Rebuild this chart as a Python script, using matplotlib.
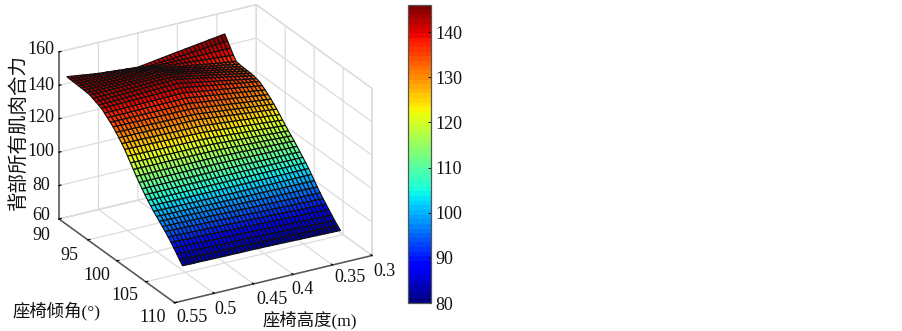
import numpy as np
import matplotlib
matplotlib.use('Agg')
import matplotlib.pyplot as plt
from matplotlib import cm
from matplotlib.colors import Normalize
from mpl_toolkits.mplot3d import proj3d

FONT = ['Liberation Serif', 'Noto Sans CJK SC', 'DejaVu Sans']
plt.rcParams['font.family'] = FONT

height_ticks = [0.3, 0.35, 0.4, 0.45, 0.5, 0.55]
height_labels = ['0.3', '0.35', '0.4', '0.45', '0.5', '0.55']
angle_ticks = [90, 95, 100, 105, 110]
force_ticks = [60, 80, 100, 120, 140, 160]
cbar_ticks = [80, 90, 100, 110, 120, 130, 140]
seat_height = np.linspace(0.34, 0.54, 41)
seat_angle = np.linspace(90, 110, 41)

# back-muscle resultant force: one row per seat angle, one column per seat height
force = [
[147.0,146.7,146.3,146.0,145.7,145.3,145.0,144.7,144.3,144.0,143.7,143.3,143.0,142.7,142.3,142.0,141.6,141.3,140.9,140.6,140.2,139.9,139.5,139.7,139.9,140.1,140.3,140.5,140.7,140.9,141.1,141.3,141.5,141.8,142.1,142.4,142.8,143.1,143.4,143.7,144.0],
[144.0,143.8,143.6,143.4,143.2,143.1,142.9,142.7,142.5,142.3,142.1,141.9,141.7,141.5,141.3,141.2,141.0,140.8,140.6,140.4,140.2,140.4,140.6,140.8,140.9,141.1,141.3,141.5,141.7,141.9,142.1,142.2,142.4,142.6,142.8,143.0,143.2,143.3,143.5,143.7,143.9],
[141.0]*21+[141.1,141.3,141.4,141.6,141.7,141.8,142.0,142.1,142.3,142.4,142.5,142.7,142.8,143.0,143.1,143.2,143.4,143.5,143.7,143.8],
[138.0,138.2,138.4,138.6,138.8,139.0,139.1,139.3,139.5,139.7,139.9,140.1,140.3,140.5,140.7,140.9,141.0,141.2,141.4,141.6,141.8,141.9,142.0,142.1,142.2,142.3,142.4,142.5,142.6,142.7,142.8,142.8,142.9,143.0,143.1,143.2,143.3,143.4,143.5,143.6,143.7],
[135.5,135.9,136.2,136.6,136.9,137.3,137.6,138.0,138.3,138.7,139.0,139.4,139.7,140.1,140.4,140.8,141.1,141.5,141.8,142.2,142.5,142.6,142.6,142.7,142.7,142.8,142.8,142.9,142.9,143.0,143.1,143.1,143.2,143.2,143.3,143.3,143.4,143.4,143.5,143.5,143.6],
[135.2,135.6,136.0,136.4,136.8,137.2,137.5,137.9,138.3,138.7,139.1,139.5,139.9,140.3,140.7,141.1,141.4,141.8,142.2,142.6,143.0,143.0,143.1,143.1,143.1,143.1,143.1,143.2,143.2,143.2,143.2,143.3,143.3,143.3,143.3,143.4,143.4,143.4,143.4,143.5,143.5],
[135.0,135.4,135.9,136.3,136.7,137.1,137.6,138.0,138.4,138.8,139.3,139.7,140.1,140.5,141.0,141.4,141.8,142.2,142.7,143.1,143.5]+[143.5]*10+[143.4]*10,
[134.9,135.3,135.8,136.2,136.7,137.1,137.6,138.0,138.5,138.9,139.4,139.8,140.2,140.7,141.1,141.6,142.0,142.5,142.9,143.4,143.8,143.8,143.7,143.7,143.7,143.7,143.7,143.6,143.6,143.6,143.5,143.5,143.5,143.4,143.4,143.4,143.3,143.3,143.3,143.2,143.2],
[134.8,135.3,135.7,136.2,136.6,137.1,137.6,138.0,138.5,138.9,139.4,139.9,140.3,140.8,141.2,141.7,142.2,142.6,143.1,143.5,144.0,144.0,143.9,143.9,143.8,143.8,143.7,143.7,143.6,143.6,143.5,143.5,143.4,143.4,143.3,143.3,143.2,143.2,143.1,143.1,143.0],
[134.7,135.2,135.6,136.1,136.5,137.0,137.4,137.9,138.3,138.8,139.3,139.7,140.2,140.6,141.1,141.5,142.0,142.4,142.9,143.3,143.8,143.7,143.6,143.6,143.5,143.4,143.3,143.2,143.2,143.1,143.0,142.9,142.8,142.8,142.7,142.6,142.5,142.4,142.4,142.3,142.2],
[134.5,135.0,135.4,135.9,136.3,136.8,137.2,137.7,138.1,138.6,139.0,139.5,139.9,140.4,140.8,141.3,141.7,142.2,142.6,143.1,143.5,143.4,143.3,143.2,143.1,143.0,142.9,142.8,142.7,142.6,142.5,142.4,142.3,142.2,142.1,142.0,141.9,141.8,141.7,141.6,141.5],
[134.0,134.4,134.8,135.3,135.7,136.1,136.5,136.9,137.4,137.8,138.2,138.6,139.0,139.5,139.9,140.3,140.7,141.1,141.6,142.0,142.4,142.3,142.2,142.2,142.1,142.0,141.9,141.8,141.8,141.7,141.6,141.5,141.4,141.4,141.3,141.2,141.1,141.0,141.0,140.9,140.8],
[133.5,133.9,134.3,134.6,135.0,135.4,135.8,136.1,136.5,136.9,137.3,137.6,138.0,138.4,138.8,139.1,139.5,139.9,140.3,140.6,141.0,141.0,140.9,140.9,140.8,140.8,140.7,140.7,140.6,140.6,140.5,140.5,140.4,140.4,140.3,140.3,140.2,140.2,140.1,140.1,140.0],
[132.3,132.7,133.0,133.4,133.7,134.1,134.4,134.8,135.1,135.5,135.8,136.2,136.5,136.9,137.2,137.6,137.9,138.3,138.6,139.0,139.3,139.3,139.2,139.2,139.1,139.1,139.1,139.0,139.0,138.9,138.9,138.9,138.8,138.8,138.7,138.7,138.7,138.6,138.6,138.5,138.5],
[131.0,131.3,131.7,132.0,132.3,132.6,133.0,133.3,133.6,133.9,134.3,134.6,134.9,135.2,135.6,135.9,136.2,136.5,136.9,137.2,137.5,137.5,137.4,137.4,137.4,137.4,137.4,137.3,137.3,137.3,137.3,137.2,137.2,137.2,137.2,137.1,137.1,137.1,137.1,137.0,137.0],
[129.5,129.8,130.1,130.4,130.7,131.0,131.3,131.6,131.9,132.2,132.5,132.8,133.1,133.4,133.7,134.0,134.3,134.6,134.9,135.2,135.5]+[135.5]*20,
[128.0,128.3,128.6,128.8,129.1,129.4,129.7,129.9,130.2,130.5,130.8,131.0,131.3,131.6,131.9,132.1,132.4,132.7,133.0,133.2,133.5,133.5,133.6,133.6,133.6,133.6,133.6,133.7,133.7,133.7,133.7,133.8,133.8,133.8,133.8,133.9,133.9,133.9,133.9,134.0,134.0],
[126.3,126.6,126.8,127.1,127.3,127.6,127.9,128.1,128.4,128.6,128.9,129.2,129.4,129.7,129.9,130.2,130.5,130.7,131.0,131.2,131.5,131.5,131.6,131.6,131.6,131.6,131.6,131.7,131.7,131.7,131.7,131.8,131.8,131.8,131.8,131.9,131.9,131.9,131.9,132.0,132.0],
[124.5,124.8,125.0,125.3,125.5,125.8,126.0,126.3,126.5,126.8,127.0,127.3,127.5,127.8,128.0,128.3,128.5,128.8,129.0,129.3,129.5,129.5,129.6,129.6,129.6,129.6,129.6,129.7,129.7,129.7,129.7,129.8,129.8,129.8,129.8,129.9,129.9,129.9,129.9,130.0,130.0],
[122.5,122.7,123.0,123.2,123.4,123.6,123.9,124.1,124.3,124.5,124.8,125.0,125.2,125.4,125.7,125.9,126.1,126.3,126.6,126.8,127.0,127.0,127.1,127.1,127.1,127.2,127.2,127.2,127.3,127.3,127.4,127.4,127.4,127.5,127.5,127.6,127.6,127.6,127.7,127.7,127.8],
[120.5,120.7,120.9,121.1,121.3,121.5,121.7,121.9,122.1,122.3,122.5,122.7,122.9,123.1,123.3,123.5,123.7,123.9,124.1,124.3,124.5,124.6,124.6,124.7,124.7,124.8,124.8,124.9,124.9,125.0,125.0,125.1,125.1,125.2,125.2,125.3,125.3,125.4,125.4,125.5,125.5],
[118.5,118.7,118.9,119.0,119.2,119.4,119.6,119.7,119.9,120.1,120.3,120.4,120.6,120.8,121.0,121.1,121.3,121.5,121.7,121.8,122.0,122.0,122.1,122.1,122.1,122.2,122.2,122.2,122.3,122.3,122.4,122.4,122.4,122.5,122.5,122.6,122.6,122.6,122.7,122.7,122.8],
[116.5,116.7,116.8,117.0,117.1,117.3,117.4,117.6,117.7,117.9,118.0,118.2,118.3,118.5,118.6,118.8,118.9,119.1,119.2,119.4,119.5,119.5,119.6,119.6,119.6,119.6,119.6,119.7,119.7,119.7,119.7,119.8,119.8,119.8,119.8,119.9,119.9,119.9,119.9,120.0,120.0],
[114.8,114.9,115.0,115.1,115.2,115.4,115.5,115.6,115.7,115.8,115.9,116.0,116.1,116.2,116.3,116.5,116.6,116.7,116.8,116.9,117.0,117.0,117.0,117.1,117.1,117.1,117.1,117.1,117.1,117.1,117.2,117.2,117.2,117.2,117.2,117.2,117.2,117.3,117.3,117.3,117.3],
[113.0,113.1,113.2,113.2,113.3,113.4,113.5,113.5,113.6,113.7,113.8,113.8,113.9,114.0,114.1,114.1,114.2,114.3,114.4,114.4,114.5]+[114.5]*20,
[111.0,111.1,111.1,111.2,111.2,111.3,111.3,111.4,111.4,111.5,111.5,111.6,111.6,111.7,111.7,111.8,111.8,111.9,111.9,112.0,112.0]+[112.0]*20,
[109.0,109.0,109.1,109.1,109.1,109.1,109.2,109.2,109.2,109.2,109.3,109.3,109.3,109.3,109.4,109.4,109.4,109.4,109.5,109.5,109.5]+[109.5]*20,
[107.0]*5+[107.1]*10+[107.2]*26,
[105.0]*41,
[102.8]*26+[102.9]*10+[103.0]*5,
[100.5]*21+[100.5,100.6,100.6,100.6,100.6,100.6,100.7,100.7,100.7,100.7,100.8,100.8,100.8,100.8,100.9,100.9,100.9,100.9,101.0,101.0],
[98.0,98.0,98.1,98.1,98.1,98.1,98.2,98.2,98.2,98.2,98.3,98.3,98.3,98.3,98.4,98.4,98.4,98.4,98.5,98.5,98.5,98.5,98.6,98.6,98.6,98.7,98.7,98.7,98.8,98.8,98.9,98.9,98.9,99.0,99.0,99.0,99.1,99.1,99.1,99.2,99.2],
[95.5,95.6,95.6,95.7,95.7,95.8,95.8,95.9,95.9,96.0,96.0,96.1,96.1,96.2,96.2,96.3,96.3,96.4,96.4,96.5,96.5,96.6,96.6,96.7,96.7,96.8,96.8,96.9,96.9,97.0,97.0,97.1,97.1,97.2,97.2,97.3,97.3,97.4,97.4,97.5,97.5],
[93.2,93.3,93.3,93.4,93.5,93.5,93.6,93.7,93.7,93.8,93.9,93.9,94.0,94.0,94.1,94.2,94.2,94.3,94.4,94.4,94.5,94.6,94.6,94.7,94.7,94.8,94.9,94.9,95.0,95.0,95.1,95.2,95.2,95.3,95.3,95.4,95.5,95.5,95.6,95.6,95.7],
[91.0,91.1,91.2,91.2,91.3,91.4,91.5,91.5,91.6,91.7,91.8,91.8,91.9,92.0,92.1,92.1,92.2,92.3,92.4,92.4,92.5,92.6,92.7,92.7,92.8,92.9,93.0,93.0,93.1,93.2,93.3,93.3,93.4,93.5,93.6,93.6,93.7,93.8,93.9,93.9,94.0],
[89.0,89.1,89.2,89.2,89.3,89.4,89.5,89.5,89.6,89.7,89.8,89.8,89.9,90.0,90.1,90.1,90.2,90.3,90.4,90.4,90.5,90.6,90.7,90.7,90.8,90.9,91.0,91.0,91.1,91.2,91.3,91.3,91.4,91.5,91.6,91.6,91.7,91.8,91.9,91.9,92.0],
[87.0,87.1,87.2,87.2,87.3,87.4,87.5,87.5,87.6,87.7,87.8,87.8,87.9,88.0,88.1,88.1,88.2,88.3,88.4,88.4,88.5,88.6,88.7,88.7,88.8,88.9,89.0,89.0,89.1,89.2,89.3,89.3,89.4,89.5,89.6,89.6,89.7,89.8,89.9,89.9,90.0],
[85.0,85.1,85.2,85.2,85.3,85.4,85.5,85.5,85.6,85.7,85.8,85.8,85.9,86.0,86.1,86.1,86.2,86.3,86.4,86.4,86.5,86.6,86.6,86.7,86.8,86.8,86.9,87.0,87.0,87.1,87.1,87.2,87.3,87.3,87.4,87.5,87.5,87.6,87.7,87.7,87.8],
[83.0,83.1,83.2,83.2,83.3,83.4,83.5,83.5,83.6,83.7,83.8,83.8,83.9,84.0,84.1,84.1,84.2,84.3,84.4,84.4,84.5,84.6,84.6,84.7,84.7,84.8,84.8,84.9,84.9,85.0,85.0,85.1,85.1,85.2,85.2,85.3,85.3,85.4,85.4,85.5,85.5],
[81.2,81.3,81.3,81.4,81.5,81.5,81.6,81.7,81.7,81.8,81.9,81.9,82.0,82.0,82.1,82.2,82.2,82.3,82.4,82.4,82.5,82.5,82.6,82.6,82.6,82.7,82.7,82.7,82.8,82.8,82.9,82.9,82.9,83.0,83.0,83.0,83.1,83.1,83.1,83.2,83.2],
[79.5,79.6,79.6,79.7,79.7,79.8,79.8,79.9,79.9,80.0,80.0,80.1,80.1,80.2,80.2,80.3,80.3,80.4,80.4,80.5,80.5,80.5,80.6,80.6,80.6,80.6,80.6,80.7,80.7,80.7,80.7,80.8,80.8,80.8,80.8,80.9,80.9,80.9,80.9,81.0,81.0],
]

W, H = 903, 331
fig = plt.figure(figsize=(W/100, H/100), dpi=100)
ax = fig.add_axes([0, 0, 1, 1], projection='3d', proj_type='ortho')
ax.view_init(elev=24.6, azim=60.1)
ax.set_box_aspect((227.5, 232, 183.7))
ax.patch.set_alpha(0)

X, Y = np.meshgrid(seat_height, seat_angle)
Z = np.array(force)
norm = Normalize(vmin=79.5, vmax=146)
ax.plot_surface(X, Y, Z, cmap='jet', norm=norm, edgecolor='#101010', linewidth=0.85,
                rcount=41, ccount=41, shade=False, antialiased=True)

ax.set_xlim(0.3, 0.55, view_margin=0)
ax.set_ylim(90, 110, view_margin=0)
ax.set_zlim(60, 160, view_margin=0)
ax.set_xticks(height_ticks); ax.set_yticks(angle_ticks); ax.set_zticks(force_ticks)
ax.set_xticklabels([]); ax.set_yticklabels([]); ax.set_zticklabels([])
for axis in (ax.xaxis, ax.yaxis, ax.zaxis):
    axis.set_pane_color((1, 1, 1, 1))
    axis.pane.set_edgecolor('#dcdcdc')
    axis._axinfo['grid'].update(color='#dcdcdc', linewidth=0.9)
    axis._axinfo['tick'].update(inward_factor=0.0, outward_factor=0.12, linewidth={True: 0.9, False: 0.5})
    axis.line.set_color('#555555')
    axis.line.set_linewidth(1.1)

# scale and place the 3D box on the reference's pixel frame
def corner(x, y, z):
    xp, yp, _ = proj3d.proj_transform(x, y, z, ax.get_proj())
    return ax.transData.transform((xp, yp))

L_T = np.array([59.0, H - 219.0])   # corner height=0.55, angle=90, force=60
R_T = np.array([372.0, H - 256.0])  # corner height=0.30, angle=110, force=60
side = 600.0
pos = [0.0, 0.0]
for _ in range(4):
    ax.set_position([pos[0]/W, pos[1]/H, side/W, side/H])
    fig.canvas.draw()
    a, b = corner(0.55, 90, 60), corner(0.3, 110, 60)
    side *= (R_T[0]-L_T[0])/(b[0]-a[0])
    ax.set_position([pos[0]/W, pos[1]/H, side/W, side/H])
    fig.canvas.draw()
    a = corner(0.55, 90, 60)
    pos[0] += L_T[0]-a[0]; pos[1] += L_T[1]-a[1]
ax.set_position([pos[0]/W, pos[1]/H, side/W, side/H])

# tick labels and axis titles at the reference's pixel places
def ptext(x, y, s, **kw):
    fig.text(x/W, 1-y/H, s, ha='center', va='center', fontsize=kw.pop('fontsize', 13), family=FONT, color='#111111', **kw)

force_label_xy = [(41, 216), (41, 185), (41, 152), (41, 118), (41, 85), (41, 49)]
for v, (x, y) in zip(force_ticks, force_label_xy):
    ptext(x, y, str(v))
angle_label_xy = [(41, 235), (69, 256), (97, 275), (125, 295), (153, 317)]
for v, (x, y) in zip(angle_ticks, angle_label_xy):
    ptext(x, y, str(v))
height_label_xy = [(385, 272), (350, 278), (303, 290), (272, 299), (226, 309), (192, 317)]
for s, (x, y) in zip(height_labels, height_label_xy):
    ptext(x, y, s)
ptext(57, 311, '座椅倾角(°)', fontsize=12.5)
ptext(310, 320, '座椅高度(m)', fontsize=12.5)
ptext(18, 132, '背部所有肌肉合力', fontsize=14, rotation=90)

# colour bar
cax = fig.add_axes([408.5/W, 1-303/H, 22.5/W, 298/H])
cb = fig.colorbar(cm.ScalarMappable(norm=Normalize(vmin=80, vmax=146), cmap=plt.get_cmap('jet', 64)), cax=cax)
cb.set_ticks(cbar_ticks)
cb.ax.tick_params(length=2, width=0.7, direction='in', right=True, labelsize=13, pad=3, colors='#111111')
cb.outline.set_edgecolor('#555555')
cb.outline.set_linewidth(0.9)

fig.savefig('out.png', dpi=100)
